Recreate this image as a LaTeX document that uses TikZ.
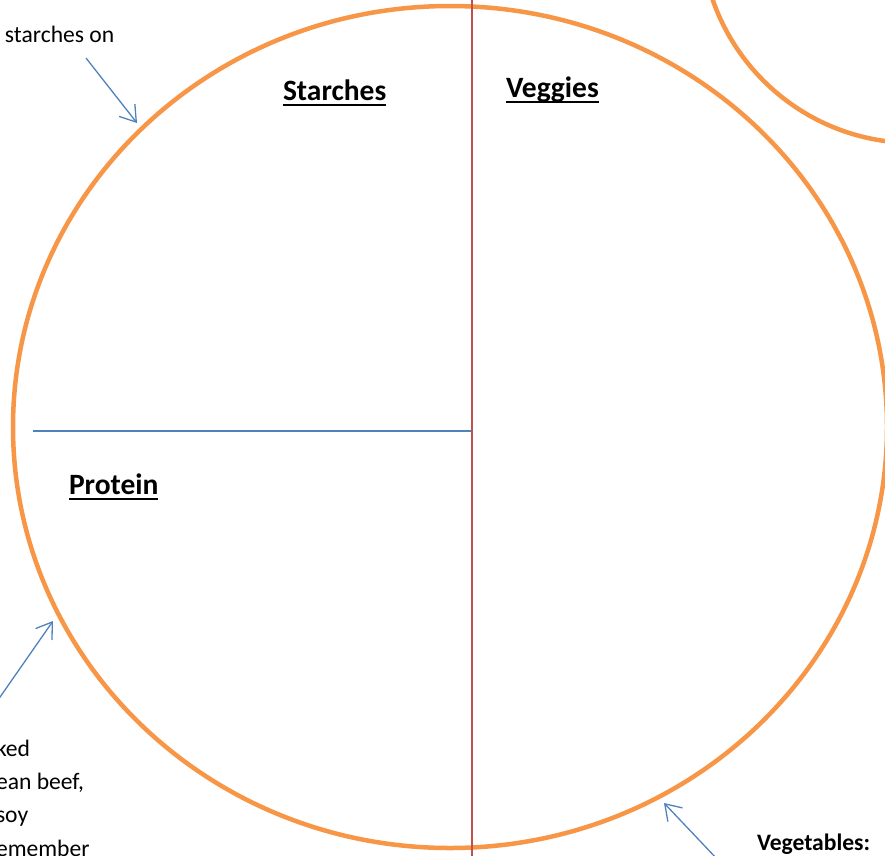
\documentclass[tikz,border=0pt]{standalone}
\usepackage{fontspec}
\setmainfont{Carlito}
\usetikzlibrary{arrows.meta}
\definecolor{plateor}{HTML}{F79646}
\definecolor{arrowbl}{HTML}{4F81BD}
\definecolor{linered}{HTML}{C0504D}
\begin{document}
\begin{tikzpicture}[x=1pt,y=-1pt,
  txt/.style={inner sep=0pt, outer sep=0pt, anchor=base west, font=\fontsize{23.6}{28}\selectfont},
  boldtxt/.style={txt, font=\fontsize{23.6}{28}\selectfont\bfseries},
  title/.style={inner sep=0pt, outer sep=0pt, anchor=base west, font=\fontsize{29.5}{34}\selectfont\bfseries},
  ul/.style={line width=2pt, black},
  rim/.style={draw=plateor, line width=4.5pt},
  pointer/.style={draw=arrowbl, line width=1.3pt, -{Straight Barb[length=15pt,width=20pt]}},
  divider/.style={line width=1.6pt}]
\useasboundingbox (0,0) rectangle (885,855);
\begin{scope}
\clip (0,0) rectangle (885,855);
% plates
\draw[rim] (450,427) ellipse [x radius=437, y radius=421];
\draw[rim] (914,-70) circle [radius=213];
% dividers
\coordinate (hl) at (33,431);
\coordinate (hc) at (472,431);
\coordinate (vt) at (472,-2);
\coordinate (vb) at (472,857);
\draw[divider, arrowbl] (hl) -- (hc);
\draw[divider, linered] (vt) -- (vb);
% titles
\node[title] (starch) at (283,100) {Starches};
\node[title] (veg) at (506,97) {Veggies};
\node[title] (prot) at (69,494) {Protein};
\foreach \n in {starch,veg,prot}
  \draw[ul] ([yshift=-5pt]\n.base west) -- ([yshift=-5pt]\n.base east);
% side texts
\node[txt] (st) at (5,42) {starches on};
\node[txt] (p1) at (-4,756) {ked};
\node[txt] (p2) at (-4,789) {ean beef,};
\node[txt] (p3) at (-4,822) {soy};
\node[txt] (p4) at (-4,856) {emember};
\node[boldtxt] (vg) at (757,850) {Vegetables:};
% pointers
\coordinate (a1s) at (86,58);
\coordinate (a1e) at (137,123);
\coordinate (a2s) at (-2,700);
\coordinate (a2e) at (53,621);
\coordinate (a3s) at (718,860);
\coordinate (a3e) at (664,803);
\draw[pointer] (a1s) -- (a1e);
\draw[pointer] (a2s) -- (a2e);
\draw[pointer] (a3s) -- (a3e);
\end{scope}
\end{tikzpicture}
\end{document}
